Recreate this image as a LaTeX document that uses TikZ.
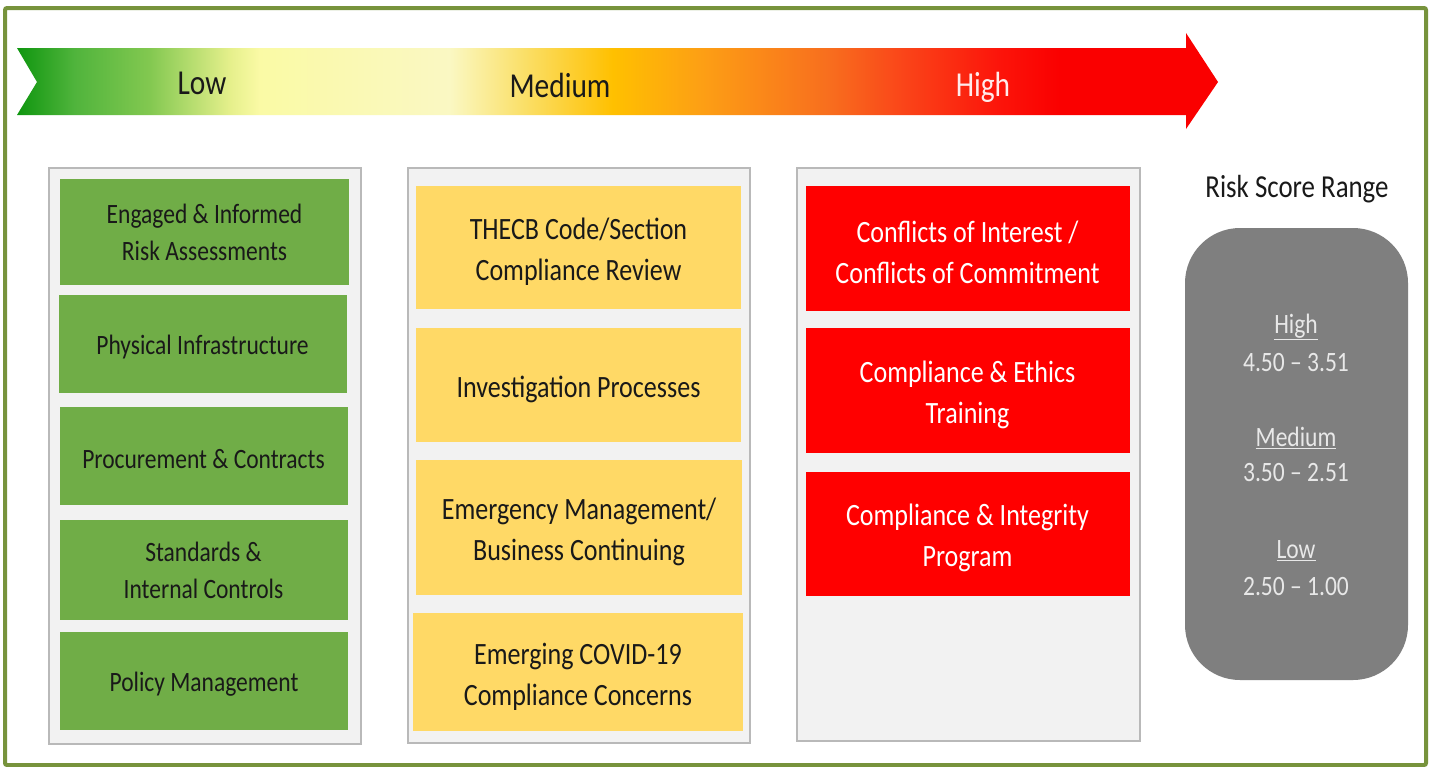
\documentclass[tikz,border=0pt]{standalone}
\usepackage{fontspec}
\setmainfont{Carlito}[FakeStretch=0.84]
\usetikzlibrary{positioning}

\definecolor{frameGreen}{RGB}{119,147,60}
\definecolor{lowGreen}{RGB}{112,173,71}
\definecolor{medYellow}{RGB}{255,217,102}
\definecolor{highRed}{RGB}{255,0,0}
\definecolor{panelFill}{RGB}{242,242,242}
\definecolor{panelLine}{RGB}{185,185,185}
\definecolor{scoreGrey}{RGB}{127,127,127}
\definecolor{scoreText}{RGB}{232,232,232}
\definecolor{darkText}{RGB}{25,25,25}

% colour ramp of the risk arrow (visible part runs from 25bp to 75bp)
\definecolor{rA}{RGB}{15,150,15}
\definecolor{rB}{RGB}{80,180,60}
\definecolor{rC}{RGB}{130,200,80}
\definecolor{rD}{RGB}{230,240,140}
\definecolor{rE}{RGB}{250,250,165}
\definecolor{rF}{RGB}{250,248,195}
\definecolor{rG}{RGB}{250,225,110}
\definecolor{rH}{RGB}{255,192,0}
\definecolor{rI}{RGB}{253,160,20}
\definecolor{rJ}{RGB}{248,110,30}
\definecolor{rK}{RGB}{250,70,25}
\definecolor{rL}{RGB}{252,20,10}
\definecolor{rM}{RGB}{250,0,0}
\pgfdeclarehorizontalshading{riskramp}{100bp}{%
  color(0bp)=(rA); color(25bp)=(rA); color(27.4bp)=(rB); color(30.5bp)=(rC);
  color(33.9bp)=(rD); color(35.1bp)=(rE); color(43bp)=(rF); color(45.9bp)=(rG);
  color(49.8bp)=(rH); color(53.4bp)=(rI); color(58.8bp)=(rJ); color(61.8bp)=(rK);
  color(65.9bp)=(rL); color(68.4bp)=(rM); color(100bp)=(rM)}

% struts that set the first line a little lower inside its cell
\newcommand\sst{\rule{0pt}{26pt}}
\newcommand\lst{\rule{0pt}{30pt}}

\tikzset{
  panel/.style={draw=panelLine, line width=1.5pt, fill=panelFill},
  cell/.style={inner sep=0pt, outer sep=0pt, align=center, draw=none},
  lowcell/.style={cell, fill=lowGreen, text=darkText, font=\fontsize{28}{37}\selectfont},
  medcell/.style={cell, fill=medYellow, text=darkText, font=\fontsize{31}{41}\selectfont},
  highcell/.style={cell, fill=highRed, text=white, font=\fontsize{31}{41}\selectfont},
  barlabel/.style={inner sep=0pt, font=\fontsize{35}{40}\selectfont},
  scorelabel/.style={inner sep=0pt, text=scoreText, font=\fontsize{28}{34}\selectfont},
}

\begin{document}
\begin{tikzpicture}[x=1pt, y=-1pt]
  \useasboundingbox (0,0) rectangle (1434,766);
  \fill[white] (0,0) rectangle (1434,766);

  % outer frame
  \draw[frameGreen, line width=4pt, rounded corners=2pt] (5,8) rectangle (1426,765);

  % risk arrow with notched tail
  \shade[shading=riskramp]
    (17,48) -- (1186,48) -- (1186,33) -- (1218,82) -- (1186,129) -- (1186,115)
    -- (17,115) -- (37,82) -- cycle;
  \node[barlabel, text=darkText] (lowlbl) at (202,83) {Low};
  \node[barlabel, text=darkText] (medlbl) at (560,85) {Medium};
  \node[barlabel, text={rgb,255:red,255;green,235;blue,235}] (highlbl) at (983,87) {High};

  % column panels
  \draw[panel] (49,168) rectangle (361,744);
  \draw[panel] (408,168) rectangle (750,743);
  \draw[panel] (797,168) rectangle (1140,741);

  % low-risk column
  \node[lowcell, minimum width=289, minimum height=106] (l1) at (204.5,232)
    {Engaged \& Informed\\Risk Assessments};
  \node[lowcell, minimum width=288, minimum height=98] (l2) at (202.5,344)
    {\sst Physical Infrastructure};
  \node[lowcell, minimum width=288, minimum height=98] (l3) at (203.5,456)
    {\sst Procurement \& Contracts};
  \node[lowcell, minimum width=288, minimum height=100] (l4) at (203.5,570)
    {Standards \&\\Internal Controls};
  \node[lowcell, minimum width=288, minimum height=98] (l5) at (204,681)
    {\sst Policy Management};

  % medium-risk column
  \node[medcell, minimum width=325, minimum height=123] (m1) at (578.5,247)
    {\lst THECB Code/Section\\Compliance Review};
  \node[medcell, minimum width=325, minimum height=114] (m2) at (578.5,385)
    {\lst Investigation Processes};
  \node[medcell, minimum width=326, minimum height=135] (m3) at (579,527.5)
    {\lst Emergency Management/\\Business Continuing};
  \node[medcell, minimum width=330, minimum height=118] (m4) at (578,672)
    {\lst Emerging COVID-19\\Compliance Concerns};

  % high-risk column
  \node[highcell, minimum width=324, minimum height=125] (h1) at (967.5,248.5)
    {\lst Conflicts of Interest /\\Conflicts of Commitment};
  \node[highcell, minimum width=324, minimum height=125] (h2) at (967.5,390.5)
    {\lst Compliance \& Ethics\\Training};
  \node[highcell, minimum width=324, minimum height=124] (h3) at (967.5,534)
    {\lst Compliance \& Integrity\\Program};

  % score ranges
  \node[inner sep=0pt, text=darkText, font=\fontsize{32}{36}\selectfont] (rsr) at (1297,189)
    {Risk Score Range};
  \node[fill=scoreGrey, rounded corners=55pt, minimum width=223, minimum height=452,
        inner sep=0pt] (scorebox) at (1296.5,454) {};
  \node[scorelabel] (sh) at (1296,327) {\underline{High}};
  \node[scorelabel] (shv) at (1296,363) {4.50 – 3.51};
  \node[scorelabel] (sm) at (1296,438) {\underline{Medium}};
  \node[scorelabel] (smv) at (1296,473) {3.50 – 2.51};
  \node[scorelabel] (sl) at (1296,551) {\underline{Low}};
  \node[scorelabel] (slv) at (1296,587) {2.50 – 1.00};
\end{tikzpicture}
\end{document}
